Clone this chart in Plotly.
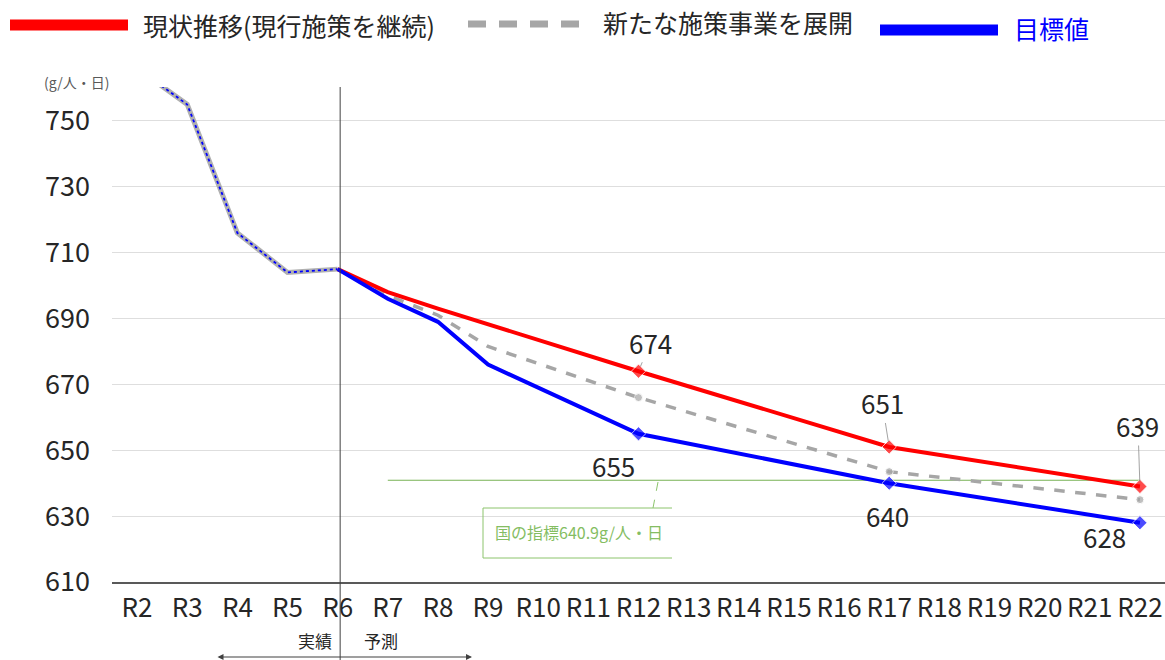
import plotly.graph_objects as go

# ---------------- data ----------------
categories = ["R2", "R3", "R4", "R5", "R6", "R7", "R8", "R9", "R10", "R11",
              "R12", "R13", "R14", "R15", "R16", "R17", "R18", "R19", "R20", "R21", "R22"]
y_ticks = [610, 630, 650, 670, 690, 710, 730, 750]

actual_years = ["R2", "R3", "R4", "R5", "R6"]
actual_vals = [766, 755, 716, 704, 705]

current_years = ["R6", "R7", "R8", "R12", "R17", "R22"]
current_vals = [705, 698, 693, 674, 651, 639]          # 現状推移(現行施策を継続)

new_years = ["R6", "R7", "R8", "R9", "R12", "R17", "R22"]
new_vals = [705, 697, 691, 681.5, 666, 643.5, 635]     # 新たな施策事業を展開

target_years = ["R6", "R7", "R8", "R9", "R12", "R17", "R22"]
target_vals = [705, 696, 689, 676, 655, 640, 628]      # 目標値

marked_years = ["R12", "R17", "R22"]
national_target = 640.9

# ---------------- layout geometry (page pixels) ----------------
W, H = 1165, 660
PL, PR, PT, PB = 112, 1165, 87, 582   # plot area in page pixels
FONT = "Noto Sans CJK JP"


def px_x(px):
    return (px - PL) / (PR - PL)


def px_y(py):
    return (PB - py) / (PB - PT)


def sizes(years, s):
    return [s if y in marked_years else 0 for y in years]


fig = go.Figure()

# history band (gray) with blue dotted overlay
fig.add_trace(go.Scatter(x=actual_years, y=actual_vals, mode="lines",
                         line=dict(color="#b0b0b0", width=5), showlegend=False, hoverinfo="skip"))
fig.add_trace(go.Scatter(x=actual_years, y=actual_vals, mode="lines",
                         line=dict(color="#0000ff", width=1.8, dash="dot"), showlegend=False))

fig.add_trace(go.Scatter(x=new_years, y=new_vals, mode="lines+markers", name="新たな施策事業を展開",
                         line=dict(color="#a6a6a6", width=3.5, dash="dash"),
                         marker=dict(symbol="circle", size=sizes(new_years, 8), color="#a6a6a6"),
                         showlegend=False))
fig.add_trace(go.Scatter(x=current_years, y=current_vals, mode="lines+markers",
                         name="現状推移(現行施策を継続)",
                         line=dict(color="#ff0000", width=4),
                         marker=dict(symbol="diamond", size=sizes(current_years, 11), color="#ff0000"),
                         showlegend=False))
fig.add_trace(go.Scatter(x=target_years, y=target_vals, mode="lines+markers", name="目標値",
                         line=dict(color="#0000ff", width=4),
                         marker=dict(symbol="diamond", size=sizes(target_years, 11), color="#0000ff"),
                         showlegend=False))

shapes = []
annotations = []

# national target line
shapes.append(dict(type="line", xref="x", yref="y", x0=5, x1=20,
                   y0=national_target, y1=national_target,
                   line=dict(color="#77b255", width=1.2), layer="below"))
# callout box (top, left, bottom) and dashed leader
bx0, bx1, by0, by1 = px_x(483), px_x(672), px_y(508), px_y(558)
for (x0, y0, x1, y1) in [(bx0, by0, bx1, by0), (bx0, by0, bx0, by1), (bx0, by1, bx1, by1)]:
    shapes.append(dict(type="line", xref="paper", yref="paper", x0=x0, y0=y0, x1=x1, y1=y1,
                       line=dict(color="#8cc46c", width=1)))
shapes.append(dict(type="line", xref="paper", yref="paper", x0=px_x(658), y0=px_y(482),
                   x1=px_x(653), y1=px_y(508), line=dict(color="#8cc46c", width=1, dash="dash")))
annotations.append(dict(xref="paper", yref="paper", x=px_x(493), y=px_y(532),
                        text=f"国の指標{national_target}g/人・日", showarrow=False,
                        xanchor="left", yanchor="middle",
                        font=dict(family=FONT, size=16, color="#84bd62")))

# divider line between actual and forecast
shapes.append(dict(type="line", xref="x", yref="paper", x0=4.05, x1=4.05, y0=px_y(662), y1=1,
                   line=dict(color="#404040", width=1)))

# ---------------- data labels ----------------
label_font = dict(family=FONT, size=26, color="#262626")
cur = dict(zip(current_years, current_vals))
tgt = dict(zip(target_years, target_vals))
for yr, ax, ay in [("R12", 12, -29), ("R17", -7, -44), ("R22", -2, -61)]:
    annotations.append(dict(x=yr, y=cur[yr], xref="x", yref="y", text=str(cur[yr]),
                            showarrow=True, arrowhead=0, arrowwidth=0.8, arrowcolor="#8c8c8c",
                            ax=ax, ay=ay, standoff=5, font=label_font))
for yr, xs, ys in [("R12", -25, -32), ("R17", -2, -32), ("R22", -35, -14)]:
    annotations.append(dict(x=yr, y=tgt[yr], xref="x", yref="y", text=str(tgt[yr]),
                            showarrow=False, xanchor="center", yanchor="middle",
                            xshift=xs, yshift=ys, font=label_font))

# unit label
annotations.append(dict(xref="paper", yref="paper", x=px_x(77), y=px_y(82), text="(g/人・日)",
                        showarrow=False, xanchor="center", yanchor="middle",
                        font=dict(family=FONT, size=14, color="#595959")))
# 実績 / 予測
annotations.append(dict(xref="paper", yref="paper", x=px_x(334), y=px_y(640), text="実績",
                        showarrow=False, xanchor="right", yanchor="middle",
                        font=dict(family=FONT, size=17, color="#262626")))
annotations.append(dict(xref="paper", yref="paper", x=px_x(362), y=px_y(640), text="予測",
                        showarrow=False, xanchor="left", yanchor="middle",
                        font=dict(family=FONT, size=17, color="#262626")))
annotations.append(dict(xref="paper", yref="paper", x=px_x(472), y=px_y(657),
                        axref="pixel", ayref="pixel", ax=-(472 - 216), ay=0,
                        text="", showarrow=True, arrowside="end+start", arrowhead=2,
                        arrowsize=1, arrowwidth=1.2, arrowcolor="#404040"))

# ---------------- custom legend ----------------
leg_font = dict(family=FONT, size=25, color="#262626")
shapes.append(dict(type="line", xref="paper", yref="paper", x0=px_x(10), x1=px_x(128),
                   y0=px_y(25), y1=px_y(25), line=dict(color="#ff0000", width=11)))
annotations.append(dict(xref="paper", yref="paper", x=px_x(141), y=px_y(25),
                        text="現状推移(現行施策を継続)", showarrow=False, xanchor="left",
                        yanchor="middle", font=leg_font))
shapes.append(dict(type="line", xref="paper", yref="paper", x0=px_x(468), x1=px_x(590),
                   y0=px_y(24), y1=px_y(24),
                   line=dict(color="#a6a6a6", width=7, dash="18px,13px")))
annotations.append(dict(xref="paper", yref="paper", x=px_x(601), y=px_y(22),
                        text="新たな施策事業を展開", showarrow=False, xanchor="left",
                        yanchor="middle", font=leg_font))
shapes.append(dict(type="line", xref="paper", yref="paper", x0=px_x(880), x1=px_x(998),
                   y0=px_y(30), y1=px_y(30), line=dict(color="#0000ff", width=11)))
annotations.append(dict(xref="paper", yref="paper", x=px_x(1012), y=px_y(28),
                        text="目標値", showarrow=False, xanchor="left", yanchor="middle",
                        font=dict(family=FONT, size=25, color="#0000ff")))

fig.update_layout(
    width=W, height=H,
    margin=dict(l=PL, r=W - PR, t=PT, b=H - PB),
    paper_bgcolor="white", plot_bgcolor="white",
    showlegend=False,
    font=dict(family=FONT, color="#262626"),
    shapes=shapes, annotations=annotations,
    xaxis=dict(type="category", categoryorder="array", categoryarray=categories,
               range=[-0.5, 20.5], showgrid=False, zeroline=False,
               showline=True, linecolor="#595959", linewidth=1.5,
               ticks="", ticklabelstandoff=2,
               tickfont=dict(family=FONT, size=26, color="#262626")),
    yaxis=dict(range=[610, 760.3], tickvals=y_ticks, showgrid=True, gridcolor="#dedede",
               gridwidth=1, zeroline=False, showline=False, ticks="", ticklabelstandoff=21,
               tickfont=dict(family=FONT, size=27, color="#262626")),
)

fig.write_html("out.html", config={"displayModeBar": False},
               post_script="document.body.style.margin='0px';document.body.style.overflow='hidden';")
